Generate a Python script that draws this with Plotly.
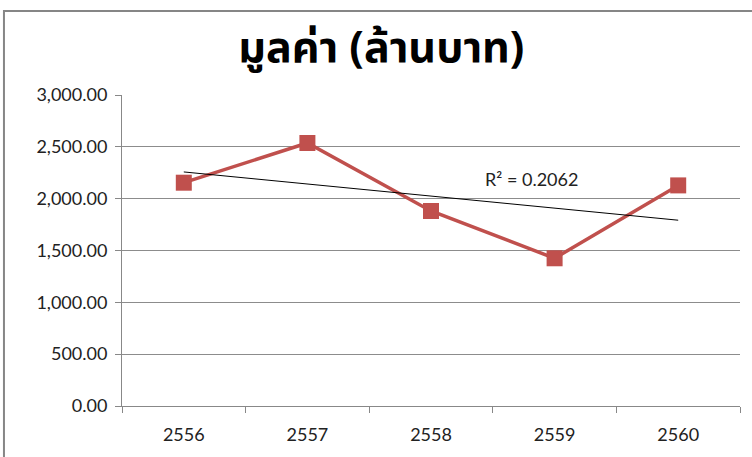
import numpy
import plotly.graph_objects as go

### Data
years = ['2556', '2557', '2558', '2559', '2560']
value_mb = [2154, 2537, 1881, 1425, 2128]
r2_label = 'R² = 0.2062'
title_text = 'มูลค่า (ล้านบาท)'
y_ticks = [0, 500, 1000, 1500, 2000, 2500, 3000]

# linear trend over the category positions
pos = numpy.arange(len(years))
slope, intercept = numpy.polyfit(pos, value_mb, 1)
trend = [intercept + slope * pos[0], intercept + slope * pos[-1]]

tick_font = dict(family='Lato, Noto Sans, sans-serif', size=18, color='#222222')

fig = go.Figure()
fig.add_trace(go.Scatter(
    x=years, y=value_mb, mode='lines+markers',
    line=dict(color='#C0504D', width=3.5),
    marker=dict(symbol='square', size=16, color='#C0504D'),
    showlegend=False
))
fig.add_trace(go.Scatter(
    x=[years[0], years[-1]], y=trend, mode='lines',
    line=dict(color='#000000', width=1), hoverinfo='skip', showlegend=False
))

fig.update_layout(
    width=752, height=457,
    margin=dict(l=122, r=12, t=95, b=49),
    paper_bgcolor='white', plot_bgcolor='white',
    title=dict(text='<b>' + title_text + '</b>', x=0.507, xanchor='center',
               y=0.897, yanchor='middle',
               font=dict(family='Noto Sans Thai, Noto Sans, sans-serif', size=43, color='#000000')),
    xaxis=dict(
        type='category', categoryorder='array', categoryarray=years,
        range=[-0.5, 4.5], tickson='boundaries',
        ticks='outside', ticklen=6, tickcolor='#888888',
        showline=True, linecolor='#888888', linewidth=1,
        showgrid=False, tickfont=tick_font, ticklabelstandoff=12
    ),
    yaxis=dict(
        range=[0, 3000], tickvals=y_ticks, tickformat=',.2f',
        ticks='outside', ticklen=6, tickcolor='#888888',
        showline=True, linecolor='#888888', linewidth=1,
        showgrid=True, gridcolor='#8c8c8c', gridwidth=1,
        zeroline=False, tickfont=tick_font, ticklabelstandoff=4
    ),
    annotations=[dict(
        text=r2_label, xref='paper', yref='paper', x=0.662, y=0.773,
        showarrow=False, font=dict(family='Lato, Noto Sans, sans-serif', size=18, color='#222222')
    )],
    shapes=[dict(
        type='rect', xref='paper', yref='paper',
        x0=-0.191, y0=-0.3, x1=1.2, y1=1.27,
        line=dict(color='#868686', width=2), layer='below'
    )]
)

# drop the page's default body margin so the figure sits at the window's corner
fig.write_html("out.html", config={'displayModeBar': False},
               post_script="document.body.style.margin='0';")
